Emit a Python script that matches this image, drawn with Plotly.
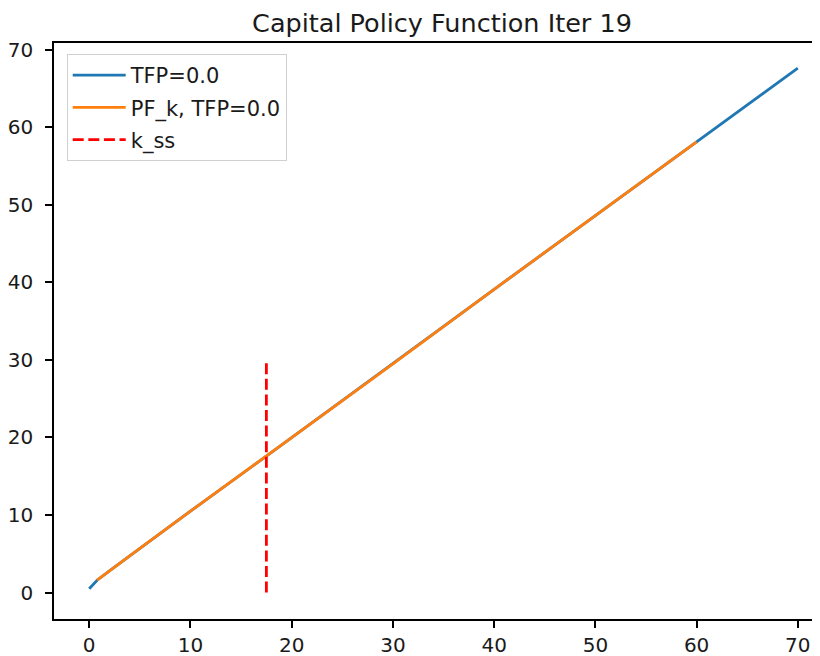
import plotly.graph_objects as go

# Data
k_grid = [0, 0.78, 2, 5, 10, 17.5, 20, 30, 40, 50, 60, 70]
k_next_tfp = [0.5, 1.6, 2.8, 5.7, 10.5, 17.6, 20.0, 29.5, 39.1, 48.6, 58.1, 67.6]
pf_grid = [0.78, 2, 5, 10, 17.5, 20, 30, 40, 50, 60]
pf_k = [1.6, 2.8, 5.7, 10.5, 17.6, 20.0, 29.5, 39.1, 48.6, 58.1]
k_ss = 17.5
k_ss_y = [0, 30]
x_ticks = [0, 10, 20, 30, 40, 50, 60, 70]
y_ticks = [0, 10, 20, 30, 40, 50, 60, 70]

FONT = "DejaVu Sans"
W, H = 812, 648  # page body has an 8px margin

fig = go.Figure()
fig.add_trace(go.Scatter(x=k_grid, y=k_next_tfp, mode="lines", name="TFP=0.0",
                         line=dict(color="#1f77b4", width=2.8), legendgroup="a"))
fig.add_trace(go.Scatter(x=pf_grid, y=pf_k, mode="lines", name="PF_k, TFP=0.0",
                         line=dict(color="#ff7f0e", width=2.8), legendgroup="b"))
fig.add_trace(go.Scatter(x=[k_ss, k_ss], y=k_ss_y, mode="lines", name="k_ss",
                         line=dict(color="#ff0000", width=2.8, dash="11px,4.6px"),
                         legendgroup="c"))

axis_common = dict(
    showgrid=False, zeroline=False, showline=True, linecolor="black", linewidth=1.5,
    ticks="outside", ticklen=7, tickwidth=1.5, tickcolor="black",
    tickfont=dict(family=FONT, size=20, color="#1a1a1a"), automargin=False,
)

fig.update_layout(
    width=W, height=H,
    margin=dict(l=46, r=0, t=35, b=37, pad=0),
    paper_bgcolor="white", plot_bgcolor="white",
    title=dict(text="Capital Policy Function Iter 19", x=434/W, xref="container",
               xanchor="center", y=1-15.5/H, yref="container", yanchor="middle",
               font=dict(family=FONT, size=25.5, color="#1a1a1a")),
    xaxis=dict(range=[-3.48, 72.19], tickvals=x_ticks, mirror=True, **axis_common),
    yaxis=dict(range=[-3.40, 70.85], tickvals=y_ticks, mirror=False,
               ticklabelstandoff=8, **axis_common),
    legend=dict(x=0.0166, y=0.981, xanchor="left", yanchor="top",
                bordercolor="#d0d0d0", borderwidth=1, bgcolor="rgba(255,255,255,0.8)",
                font=dict(family=FONT, size=21, color="#1a1a1a"),
                traceorder="grouped", tracegroupgap=2, itemwidth=53),
    showlegend=True,
)

fig.write_html("out.html")
